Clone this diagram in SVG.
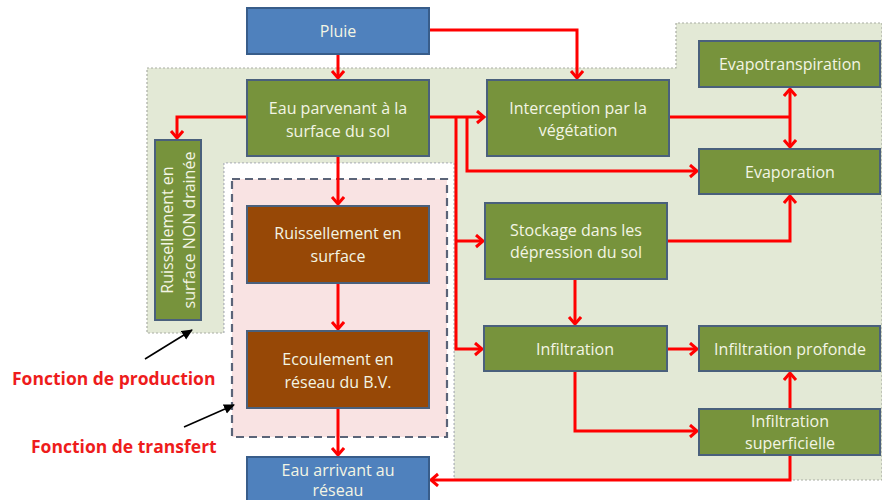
<svg xmlns="http://www.w3.org/2000/svg" width="882" height="500" viewBox="0 0 882 500">
  <defs>
    <style>
      .bg { fill: #e3e9d6; stroke: #a9ada4; stroke-width: 1.2; stroke-dasharray: 2 2; }
      .white { fill: #ffffff; }
      .pink { fill: #f9e3e3; stroke: #5b6478; stroke-width: 2.2; stroke-dasharray: 8 5; }
      .green { fill: #77933c; stroke: #4a607c; stroke-width: 2; }
      .brown { fill: #974806; stroke: #4a607c; stroke-width: 2; }
      .blue { fill: #4f81bd; stroke: #385d8a; stroke-width: 2; }
      .t { font-family: "Open Sans", "Liberation Sans", sans-serif; font-size: 16px; fill: #f3f5e4; text-anchor: middle; }
      .lbl { font-family: "Open Sans", "Liberation Sans", sans-serif; font-size: 17.5px; font-weight: bold; fill: #ee1c1c; }
      .c { fill: none; stroke: #ff0000; stroke-width: 3; }
      .k { fill: none; stroke: #000000; stroke-width: 1.6; }
    </style>
    <marker id="ah" markerUnits="userSpaceOnUse" markerWidth="14" markerHeight="16" refX="9" refY="7" orient="auto-start-reverse" viewBox="0 0 14 16">
      <path d="M2,1 L9,7 L2,13" fill="none" stroke="#ff0000" stroke-width="3"/>
    </marker>
    <marker id="kh" markerUnits="userSpaceOnUse" markerWidth="12" markerHeight="12" refX="10" refY="5" orient="auto" viewBox="0 0 12 10">
      <path d="M0,0 L11,5 L0,10 Z" fill="#000000"/>
    </marker>
  </defs>

  <!-- background regions -->
  <path class="bg" d="M147,68 L676,68 L676,23 L882,23 L882,480 L454,480 L454,163 L224,163 L224,333 L147,333 Z"/>
  <path class="white" d="M224,163 L454,163 L454,500 L224,500 Z"/>
  <path d="M224,333 L224,163 L454,163 L454,480" fill="none" stroke="#b8bcc4" stroke-width="1.2" stroke-dasharray="2 2"/>
  <rect class="pink" x="232" y="179" width="215" height="258"/>

  <!-- connectors -->
  <g id="connectors">
    <path class="c" d="M429,30 L577,30 L577,78" marker-end="url(#ah)"/>
    <path class="c" d="M338,54 L338,78" marker-end="url(#ah)"/>
    <path class="c" d="M247,117 L177,117 L177,138" marker-end="url(#ah)"/>
    <path class="c" d="M429,117 L484,117" marker-end="url(#ah)"/>
    <path class="c" d="M467,117 L467,171 L697,171" marker-end="url(#ah)"/>
    <path class="c" d="M456,117 L456,349 L482,349" marker-end="url(#ah)"/>
    <path class="c" d="M456,241 L483,241" marker-end="url(#ah)"/>
    <path class="c" d="M338,156 L338,204" marker-end="url(#ah)"/>
    <path class="c" d="M338,283 L338,329" marker-end="url(#ah)"/>
    <path class="c" d="M338,408 L338,455" marker-end="url(#ah)"/>
    <path class="c" d="M669,117 L790,117"/>
    <path class="c" d="M790,89 L790,147" marker-start="url(#ah)" marker-end="url(#ah)"/>
    <path class="c" d="M667,241 L790,241 L790,196" marker-end="url(#ah)"/>
    <path class="c" d="M575,279 L575,324" marker-end="url(#ah)"/>
    <path class="c" d="M667,349 L697,349" marker-end="url(#ah)"/>
    <path class="c" d="M575,371 L575,431 L697,431" marker-end="url(#ah)"/>
    <path class="c" d="M790,409 L790,373" marker-end="url(#ah)"/>
    <path class="c" d="M790,455 L790,480 L431,480" marker-end="url(#ah)"/>
    <path class="k" d="M145,359 L192,330" marker-end="url(#kh)"/>
    <path class="k" d="M184,427 L234,405" marker-end="url(#kh)"/>
  </g>

  <g id="pluie">
    <rect class="blue" x="247" y="8" width="182" height="46"/>
    <text class="t" x="338" y="37">Pluie</text>
  </g>
  <g id="eau-parvenant">
    <rect class="green" x="247" y="80" width="182" height="76"/>
    <text class="t" x="338" y="114">Eau parvenant à la</text>
    <text class="t" x="338" y="137">surface du sol</text>
  </g>
  <g id="ruissellement-non-draine">
    <rect class="green" x="155" y="140" width="46" height="180"/>
    <text class="t" transform="translate(173,230) rotate(-90)">Ruissellement en</text>
    <text class="t" transform="translate(195,230) rotate(-90)">surface NON drainée</text>
  </g>
  <g id="ruissellement-surface">
    <rect class="brown" x="247" y="206" width="182" height="77"/>
    <text class="t" x="338" y="239">Ruissellement en</text>
    <text class="t" x="338" y="262">surface</text>
  </g>
  <g id="ecoulement">
    <rect class="brown" x="247" y="331" width="182" height="77"/>
    <text class="t" x="338" y="365">Ecoulement en</text>
    <text class="t" x="338" y="388">réseau du B.V.</text>
  </g>
  <g id="eau-arrivant">
    <rect class="blue" x="247" y="457" width="182" height="50"/>
    <text class="t" x="338" y="476">Eau arrivant au</text>
    <text class="t" x="338" y="496">réseau</text>
  </g>
  <g id="interception">
    <rect class="green" x="487" y="80" width="182" height="76"/>
    <text class="t" x="578" y="114">Interception par la</text>
    <text class="t" x="578" y="136">végétation</text>
  </g>
  <g id="evapotranspiration">
    <rect class="green" x="699" y="41" width="181" height="46"/>
    <text class="t" x="790" y="70">Evapotranspiration</text>
  </g>
  <g id="evaporation">
    <rect class="green" x="699" y="149" width="181" height="45"/>
    <text class="t" x="790" y="178">Evaporation</text>
  </g>
  <g id="stockage">
    <rect class="green" x="485" y="203" width="182" height="76"/>
    <text class="t" x="576" y="236">Stockage dans les</text>
    <text class="t" x="576" y="258">dépression du sol</text>
  </g>
  <g id="infiltration">
    <rect class="green" x="484" y="326" width="183" height="45"/>
    <text class="t" x="575" y="355">Infiltration</text>
  </g>
  <g id="infiltration-profonde">
    <rect class="green" x="699" y="326" width="181" height="45"/>
    <text class="t" x="790" y="355">Infiltration profonde</text>
  </g>
  <g id="infiltration-superficielle">
    <rect class="green" x="699" y="409" width="181" height="46"/>
    <text class="t" x="790" y="427">Infiltration</text>
    <text class="t" x="790" y="449">superficielle</text>
  </g>

  <text class="lbl" x="12" y="385">Fonction de production</text>
  <text class="lbl" x="31" y="453">Fonction de transfert</text>
</svg>
